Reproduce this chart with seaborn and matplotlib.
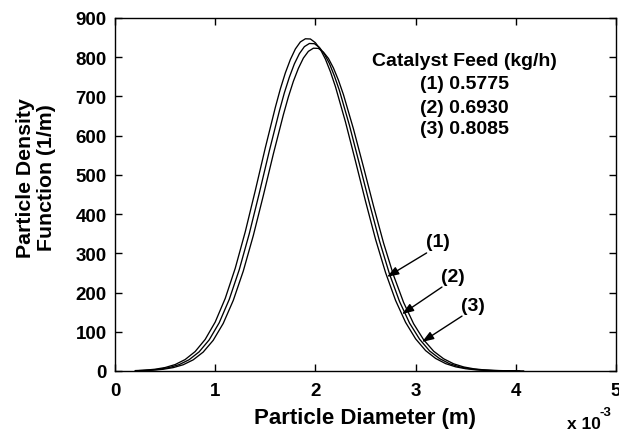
import numpy as np
import pandas as pd
import matplotlib
matplotlib.use("Agg")
import matplotlib.pyplot as plt
import seaborn as sns

# Particle diameter (units of 1e-3 m) and density values
x1 = [0.2, 0.3, 0.4, 0.5, 0.6, 0.7, 0.8, 0.9, 1.0, 1.1, 1.2, 1.3, 1.4, 1.5, 1.6, 1.65, 1.7, 1.75, 1.8, 1.85, 1.9,
      1.95, 2.0, 2.05, 2.1, 2.15, 2.2, 2.3, 2.4, 2.5, 2.6, 2.7, 2.8, 2.9, 3.0, 3.1, 3.2, 3.3, 3.4, 3.5, 3.6, 3.7,
      3.8, 3.9, 4.0]
y1 = [1.0, 2.2, 4.5, 8.8, 16.4, 29.2, 49.6, 80.5, 124.8, 185, 262, 355, 460, 569, 672, 719, 760, 794, 821, 839, 847,
      846.5, 837, 820, 795, 763, 725, 635, 535, 433, 336, 251, 180, 124, 82, 52, 32, 18.8, 10.6, 5.8, 3.0, 1.5,
      0.8, 0.4, 0.2]
x2 = [0.24, 0.34, 0.44, 0.54, 0.64, 0.74, 0.84, 0.94, 1.04, 1.14, 1.24, 1.34, 1.44, 1.54, 1.64, 1.69, 1.74, 1.79,
      1.84, 1.89, 1.94, 1.99, 2.04, 2.09, 2.14, 2.19, 2.24, 2.34, 2.44, 2.54, 2.64, 2.74, 2.84, 2.94, 3.04, 3.14,
      3.24, 3.34, 3.44, 3.54, 3.64, 3.74, 3.84, 3.94, 4.04]
y2 = [1.0, 2.2, 4.4, 8.7, 16.2, 28.8, 48.9, 79.4, 123.0, 182.4, 258.3, 350, 453.5, 561, 662.5, 709, 749, 783,
      809, 827, 835, 834.5, 825, 808, 784, 752, 715, 626, 527, 427, 331, 247, 177, 122, 81, 51,
      31.5, 18.5, 10.4, 5.7, 3.0, 1.5, 0.8, 0.4, 0.2]
x3 = [0.28, 0.38, 0.48, 0.58, 0.68, 0.78, 0.88, 0.98, 1.08, 1.18, 1.28, 1.38, 1.48, 1.58, 1.68, 1.73, 1.78, 1.83,
      1.88, 1.93, 1.98, 2.03, 2.08, 2.13, 2.18, 2.23, 2.28, 2.38, 2.48, 2.58, 2.68, 2.78, 2.88, 2.98, 3.08, 3.18,
      3.28, 3.38, 3.48, 3.58, 3.68, 3.78, 3.88, 3.98, 4.08]
y3 = [1.0, 2.1, 4.4, 8.6, 15.9, 28.4, 48.2, 78.2, 121.3, 179.8, 254.6, 345, 447, 553, 653, 698.6, 738.5, 771.5,
      797.8, 815, 823, 822.5, 813, 797, 772.5, 741.4, 704.5, 617, 520, 420.7, 326.5, 243.9, 174.9, 120.5, 79.7, 50.5,
      31.1, 18.3, 10.3, 5.6, 2.9, 1.5, 0.8, 0.4, 0.2]

series_names = ["(1)", "(2)", "(3)"]
feeds = ["0.5775", "0.6930", "0.8085"]
legend_title = "Catalyst Feed (kg/h)"

x_ticks = [0, 1, 2, 3, 4, 5]
y_ticks = [0, 100, 200, 300, 400, 500, 600, 700, 800, 900]

# annotation arrows: tip, tail, label
arrow_tips = [(2.715, 240), (2.864, 145), (3.064, 74)]
arrow_tails = [(3.11, 301), (3.263, 214), (3.463, 140)]
label_pos = [(3.22, 329), (3.37, 240), (3.57, 166)]
legend_rows_y = [791, 732, 673, 617]

df = pd.concat([
    pd.DataFrame({"d": x1, "f": y1, "s": series_names[0]}),
    pd.DataFrame({"d": x2, "f": y2, "s": series_names[1]}),
    pd.DataFrame({"d": x3, "f": y3, "s": series_names[2]}),
])

sns.set_style("ticks")
plt.rcParams["font.family"] = ["Liberation Sans", "DejaVu Sans"]
plt.rcParams["font.weight"] = "bold"
plt.rcParams["text.color"] = "black"
plt.rcParams["axes.labelcolor"] = "black"
plt.rcParams["xtick.color"] = "black"
plt.rcParams["ytick.color"] = "black"

fig = plt.figure(figsize=(6.19, 4.35), dpi=100)
ax = fig.add_axes([115 / 619, 1 - 372 / 435, (616 - 115) / 619, (372 - 19) / 435])

sns.lineplot(data=df, x="d", y="f", hue="s", palette=["black"] * 3, linewidth=0.95,
             legend=False, ax=ax, sort=False)

ax.set_xlim(0, 5)
ax.set_ylim(0, 900)
ax.set_xticks(x_ticks)
ax.set_xticklabels([str(t) for t in x_ticks])
ax.set_yticks(y_ticks)
ax.set_yticklabels([str(t) for t in y_ticks])
ax.tick_params(direction="in", length=5, width=1, top=True, right=True,
               labelsize=13.5, colors="black")
ax.tick_params(axis="x", pad=8)
ax.tick_params(axis="y", pad=6)
for lab in ax.get_xticklabels() + ax.get_yticklabels():
    lab.set_fontweight("bold")
for sp in ax.spines.values():
    sp.set_visible(True)
    sp.set_linewidth(1.0)
    sp.set_color("black")

ax.set_xlabel("")
ax.set_ylabel("")
fig.text(365 / 619, 1 - 419 / 435, "Particle Diameter (m)", ha="center", va="center",
         fontsize=16, fontweight="bold", color="black")
fig.text(36 / 619, 1 - 178 / 435, "Particle Density\nFunction (1/m)", ha="center", va="center",
         rotation=90, fontsize=15.3, fontweight="bold", multialignment="center", linespacing=1.15,
         color="black")
fig.text(567 / 619, 1 - 425 / 435, "x 10", ha="left", va="center", fontsize=12.5, fontweight="bold",
         color="black")
fig.text(600 / 619, 1 - 413 / 435, "-3", ha="left", va="center", fontsize=9.5, fontweight="bold",
         color="black")

ax.text(3.49, legend_rows_y[0], legend_title, ha="center", va="center", fontsize=14, fontweight="bold",
        color="black")
for i, (nm, fd) in enumerate(zip(series_names, feeds)):
    ax.text(3.49, legend_rows_y[i + 1], f"{nm} {fd}", ha="center", va="center",
            fontsize=14, fontweight="bold", color="black")

for tip, tail, lp, nm in zip(arrow_tips, arrow_tails, label_pos, series_names):
    ax.annotate("", xy=tip, xytext=tail,
                arrowprops=dict(arrowstyle="-|>,head_length=0.7,head_width=0.25",
                                color="black", lw=1.0, shrinkA=0, shrinkB=0))
    ax.text(lp[0], lp[1], nm, ha="center", va="center", fontsize=14, fontweight="bold", color="black")

fig.savefig("out.png", dpi=100)
